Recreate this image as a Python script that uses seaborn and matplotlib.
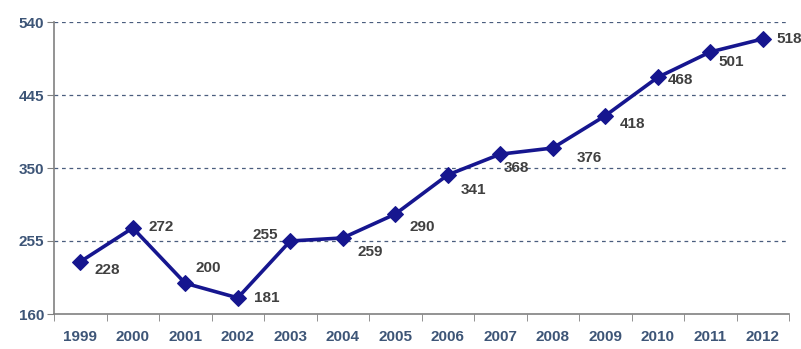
import matplotlib
matplotlib.use("Agg")
import matplotlib.pyplot as plt
import seaborn as sns
import pandas as pd

years = [1999, 2000, 2001, 2002, 2003, 2004, 2005, 2006, 2007, 2008, 2009, 2010, 2011, 2012]
values = [228, 272, 200, 181, 255, 259, 290, 341, 368, 376, 418, 468, 501, 518]
y_ticks = [160, 255, 350, 445, 540]

# label offsets in pixels (dx, dy) relative to each point
label_offsets = [(27, -8), (28, 1), (23, 15), (29, 0), (-25, 6), (28, -14), (27, -13),
                 (26, -15), (16, -14), (37, -10), (27, -8), (23, -3), (21, -10), (26, 0)]

df = pd.DataFrame({"year": years, "value": values})

sns.set_style("white")
plt.rcParams['font.family'] = ['Liberation Sans', 'DejaVu Sans']

fig = plt.figure(figsize=(8.01, 3.49), dpi=100)
ax = fig.add_axes([54 / 801, 1 - 314 / 349, 735 / 801, 292 / 349])

line_color = "#16168f"
sns.lineplot(data=df, x="year", y="value", ax=ax, color=line_color, linewidth=2.6,
             marker="D", markersize=8, markeredgecolor=line_color, zorder=3)

for yr, v, (dx, dy) in zip(years, values, label_offsets):
    ax.annotate(str(v), (yr, v), xytext=(dx, dy), textcoords="offset pixels",
                ha="center", va="center", fontsize=11, fontweight="bold", color="#404040")

ax.set_xlim(1998.5, 2012.5)
ax.set_ylim(160, 540)
ax.set_yticks(y_ticks)
ax.set_xticks(years)
ax.set_xticks([y - 0.5 for y in years] + [years[-1] + 0.5], minor=True)
ax.set_xlabel("")
ax.set_ylabel("")

for t in y_ticks[1:]:
    ax.axhline(t, color="#4a5d7e", linestyle=(0, (3, 3)), linewidth=0.9, zorder=1)

for s in ["top", "right"]:
    ax.spines[s].set_visible(False)
for s in ["left", "bottom"]:
    ax.spines[s].set_color("#808080")
    ax.spines[s].set_linewidth(1.2)

ax.tick_params(axis="y", which="major", left=True, length=5, color="#808080",
               labelsize=11, labelcolor="#3d5577", pad=2)
ax.tick_params(axis="x", which="major", bottom=False, labelsize=11,
               labelcolor="#3d5577", pad=8)
ax.tick_params(axis="x", which="minor", bottom=True, length=5, color="#808080")
for lbl in ax.get_xticklabels() + ax.get_yticklabels():
    lbl.set_fontweight("bold")

fig.savefig("out.png", dpi=100)
